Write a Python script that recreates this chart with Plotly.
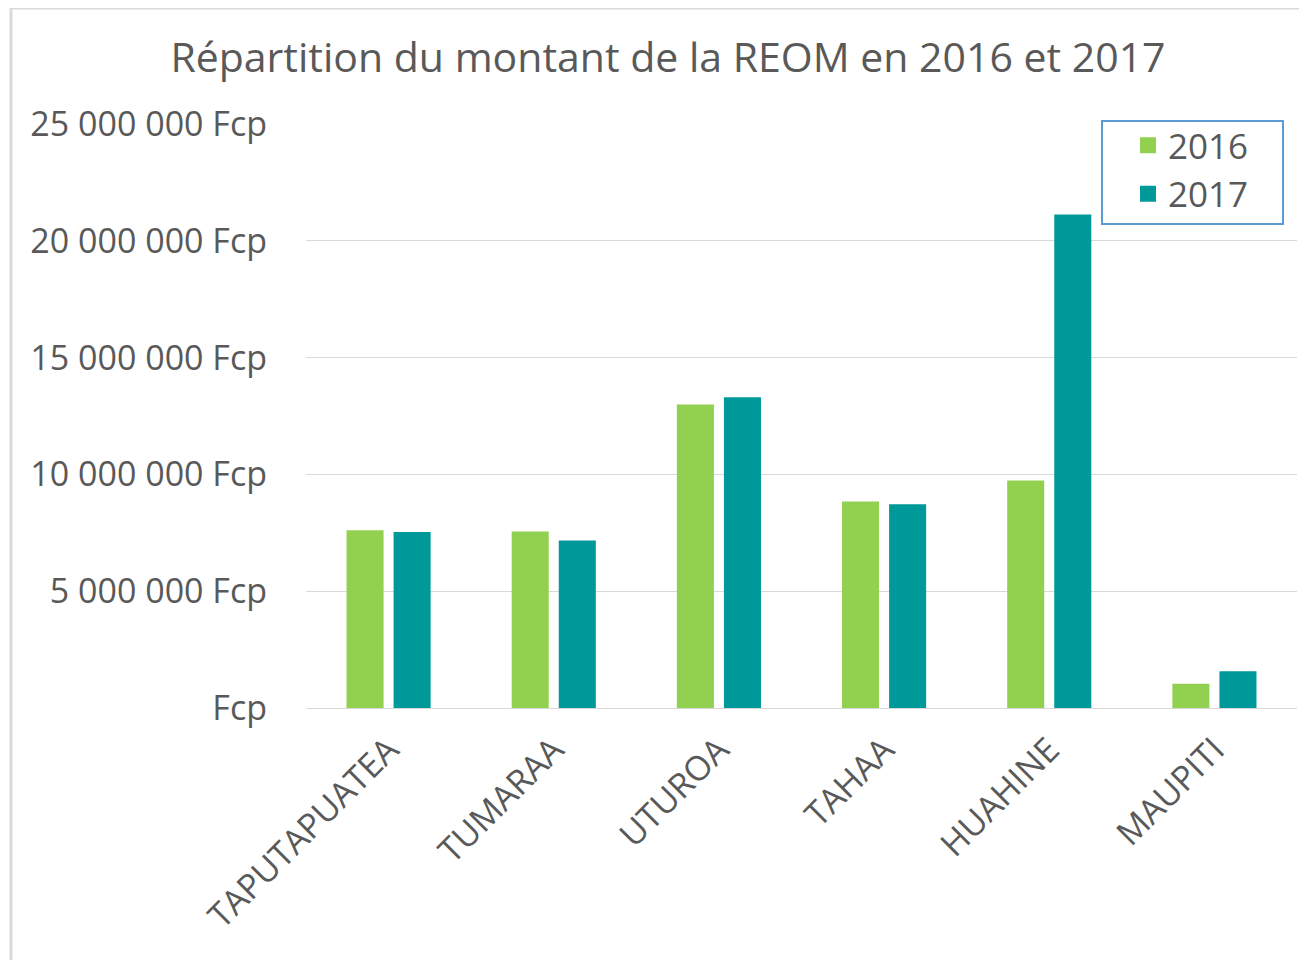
import plotly.graph_objects as go

communes = ["TAPUTAPUATEA", "TUMARAA", "UTUROA", "TAHAA", "HUAHINE", "MAUPITI"]
montant_2016 = [7610000, 7560000, 12990000, 8840000, 9740000, 1040000]
montant_2017 = [7530000, 7170000, 13300000, 8720000, 21130000, 1570000]
y_tickvals = [0, 5000000, 10000000, 15000000, 20000000, 25000000]
y_ticktext = ["Fcp", "5 000 000 Fcp", "10 000 000 Fcp", "15 000 000 Fcp",
              "20 000 000 Fcp", "25 000 000 Fcp"]

# page has an 8px body margin: figure coordinates = page coordinates - 8
OFF = 8
W, H = 1307 - OFF, 960 - OFF
L, R, T, B = 306 - OFF, 10, 124 - OFF, 252
pw, ph = W - L - R, H - T - B

def px(x):
    return (x - OFF - L) / pw

def py(y):
    return (H - B - (y - OFF)) / ph

text_color = "#595959"
font = "Open Sans"
colors = {"2016": "#92D050", "2017": "#009999"}

fig = go.Figure()
fig.add_trace(go.Bar(name="2016", x=communes, y=montant_2016, marker_color=colors["2016"],
                     marker_line_width=0, showlegend=False))
fig.add_trace(go.Bar(name="2017", x=communes, y=montant_2017, marker_color=colors["2017"],
                     marker_line_width=0, showlegend=False))
for name in ["2016", "2017"]:
    fig.add_trace(go.Scatter(name=name, x=[None], y=[None], mode="markers",
                             legendgroup=name,
                             marker=dict(symbol="square", size=21, color=colors[name]),
                             showlegend=True))

fig.update_layout(
    width=W, height=H,
    margin=dict(l=L, r=R, t=T, b=B, pad=0),
    paper_bgcolor="white", plot_bgcolor="white",
    barmode="group", bargap=0.43, bargroupgap=0.213,
    font=dict(family=font, color=text_color),
    title=dict(text="Répartition du montant de la REOM en 2016 et 2017",
               x=(668 - OFF) / W, xanchor="center", xref="container",
               y=1 - (58 - OFF) / H, yanchor="middle", yref="container",
               font=dict(family=font, size=41, color=text_color)),
    legend=dict(x=px(1128), y=py(116), xanchor="left", yanchor="top",
                borderwidth=0, bgcolor="rgba(0,0,0,0)",
                font=dict(family=font, size=35, color=text_color),
                itemsizing="trace", itemwidth=30, tracegroupgap=4,
                traceorder="normal"),
    yaxis=dict(range=[0, 25000000], tickvals=y_tickvals, ticktext=y_ticktext,
               showgrid=True, gridcolor="#D9D9D9", gridwidth=1,
               zeroline=True, zerolinecolor="#D9D9D9", zerolinewidth=1,
               showline=False, ticks="", ticklabelstandoff=38,
               tickfont=dict(family=font, size=34, color=text_color)),
    xaxis=dict(tickangle=-45, showgrid=False, showline=False, ticks="",
               ticklabelstandoff=14, range=[-0.5, 5.5],
               tickfont=dict(family=font, size=34, color=text_color)),
    shapes=[
        dict(type="line", xref="paper", yref="paper", x0=px(11), x1=px(11),
             y0=py(8), y1=py(960), line=dict(color="#D9D9D9", width=3)),
        dict(type="line", xref="paper", yref="paper", x0=px(11), x1=px(1307),
             y0=py(8), y1=py(8), line=dict(color="#D9D9D9", width=3)),
        dict(type="rect", xref="paper", yref="paper", x0=px(1102), x1=px(1283),
             y0=py(224), y1=py(121), fillcolor="white",
             line=dict(color="#5B9BD5", width=2), layer="above"),
    ],
)

fig.write_html("out.html")
